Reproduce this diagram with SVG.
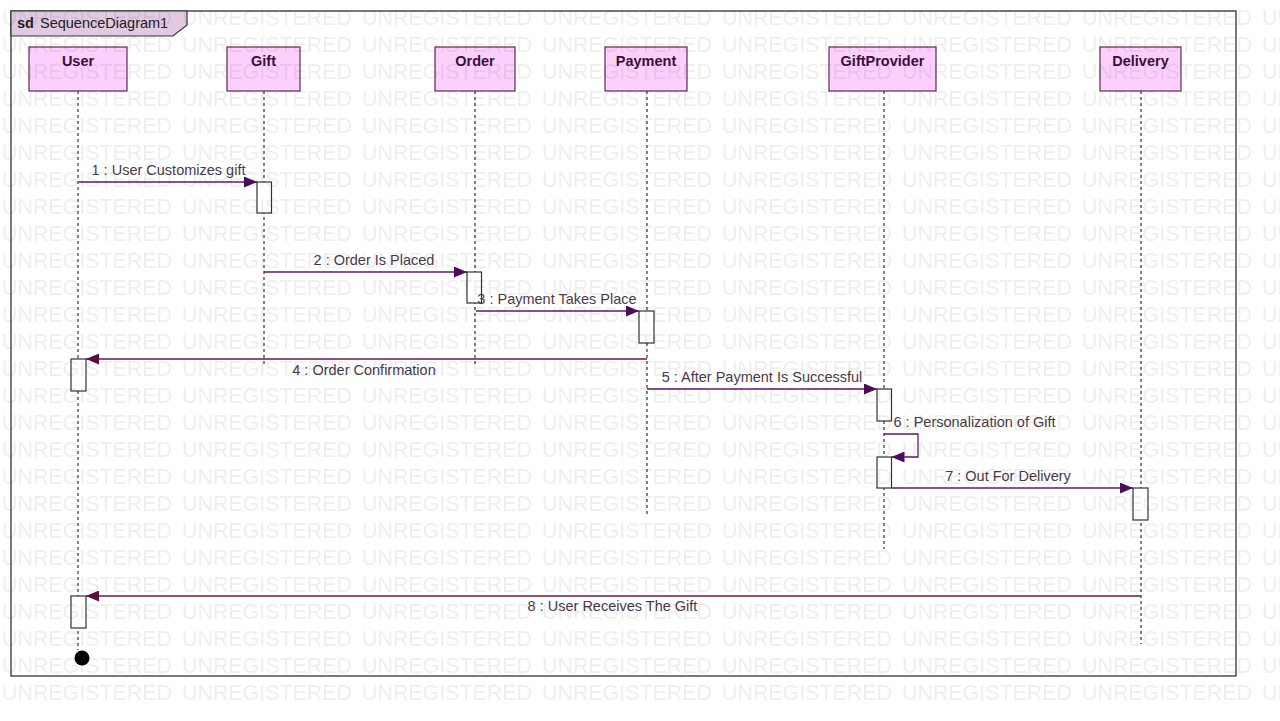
<svg xmlns="http://www.w3.org/2000/svg" width="1280" height="721" viewBox="0 0 1280 721">
<style>
text{font-family:"Liberation Sans",Arial,sans-serif;}
.head{fill:#fdcffd;stroke:#5c2a50;stroke-width:1.2;}
.htxt{font-size:14.5px;font-weight:bold;fill:#3a0f3a;text-anchor:middle;}
.life{stroke:#333;stroke-width:1.2;stroke-dasharray:3,3;fill:none;}
.act{fill:#fff;stroke:#333;stroke-width:1.2;}
.msg{stroke:#66166a;stroke-width:1.3;fill:none;}
.ret{stroke:#6d1450;stroke-width:1.3;fill:none;}
.lbl{font-size:14.5px;fill:#4a3a4a;text-anchor:middle;}
.wm{font-size:21.4px;fill:#000;fill-opacity:0.065;}
</style>
<defs>
<marker id="ah" markerUnits="userSpaceOnUse" markerWidth="13" markerHeight="11" refX="13" refY="5.5" orient="auto">
<path d="M0,0 L13,5.5 L0,11 z" fill="#4d0d5c"/>
</marker>
<marker id="ahr" markerUnits="userSpaceOnUse" markerWidth="13" markerHeight="11" refX="13" refY="5.5" orient="auto">
<path d="M0,0 L13,5.5 L0,11 z" fill="#5e0c3c"/>
</marker>
<pattern id="wmp" patternUnits="userSpaceOnUse" x="2" y="0" width="180" height="27">
<text class="wm" x="0" y="25">UNREGISTERED</text>
</pattern>
</defs>
<rect width="1280" height="721" fill="#fff"/>
<g id="frame">
<rect x="11" y="11" width="1225" height="665" fill="none" stroke="#222" stroke-width="1.2"/>
<path d="M11,11 L187,11 L187,25 L173,36 L11,36 Z" fill="#e2c9e2" stroke="#333" stroke-width="1.2"/>
<text x="17" y="28" font-size="14.5" fill="#222"><tspan font-weight="bold">sd</tspan><tspan x="40">SequenceDiagram1</tspan></text>
</g>
<g id="lifelines">
<line class="life" x1="78" y1="91" x2="78" y2="650"/>
<line class="life" x1="264" y1="91" x2="264" y2="366"/>
<line class="life" x1="475" y1="91" x2="475" y2="366"/>
<line class="life" x1="647" y1="91" x2="647" y2="516"/>
<line class="life" x1="884" y1="91" x2="884" y2="549"/>
<line class="life" x1="1141" y1="91" x2="1141" y2="644"/>
</g>
<g id="User"><rect class="head" x="29" y="47" width="98" height="44"/><text class="htxt" x="78" y="66">User</text></g>
<g id="Gift"><rect class="head" x="227" y="47" width="73" height="44"/><text class="htxt" x="263.5" y="66">Gift</text></g>
<g id="Order"><rect class="head" x="435" y="47" width="80" height="44"/><text class="htxt" x="475" y="66">Order</text></g>
<g id="Payment"><rect class="head" x="605" y="47" width="82" height="44"/><text class="htxt" x="646" y="66">Payment</text></g>
<g id="GiftProvider"><rect class="head" x="829" y="47" width="107" height="44"/><text class="htxt" x="882.5" y="66">GiftProvider</text></g>
<g id="Delivery"><rect class="head" x="1100" y="47" width="81" height="44"/><text class="htxt" x="1140.5" y="66">Delivery</text></g>
<g id="activations">
<rect class="act" x="257" y="182" width="14.5" height="31"/>
<rect class="act" x="467" y="272" width="14.5" height="31"/>
<rect class="act" x="639" y="311" width="15" height="32"/>
<rect class="act" x="71" y="359" width="15" height="32"/>
<rect class="act" x="877" y="389" width="14.5" height="32"/>
<rect class="act" x="877" y="457" width="14.5" height="31"/>
<rect class="act" x="1133" y="488" width="15" height="32"/>
<rect class="act" x="71" y="596" width="15" height="32"/>
</g>
<g id="end"><circle cx="82" cy="658" r="7.5" fill="#000"/></g>
<g id="connectors">
<line class="msg" x1="79" y1="182" x2="257" y2="182" marker-end="url(#ah)"/>
<line class="msg" x1="264" y1="272" x2="467" y2="272" marker-end="url(#ah)"/>
<line class="msg" x1="476" y1="311" x2="639" y2="311" marker-end="url(#ah)"/>
<line class="ret" x1="647" y1="359" x2="86" y2="359" marker-end="url(#ahr)"/>
<line class="msg" x1="647" y1="389" x2="877" y2="389" marker-end="url(#ah)"/>
<path class="msg" d="M884,434 L918,434 L918,457 L891.5,457" marker-end="url(#ah)"/>
<line class="msg" x1="891.5" y1="488" x2="1133" y2="488" marker-end="url(#ah)"/>
<line class="ret" x1="1141" y1="596" x2="86" y2="596" marker-end="url(#ahr)"/>
</g>
<g id="labels">
<text class="lbl" x="168.5" y="175">1 : User Customizes gift</text>
<text class="lbl" x="374" y="265">2 : Order Is Placed</text>
<text class="lbl" x="557" y="304">3 : Payment Takes Place</text>
<text class="lbl" x="364" y="375">4 : Order Confirmation</text>
<text class="lbl" x="762" y="382">5 : After Payment Is Successful</text>
<text class="lbl" x="974.5" y="427">6 : Personalization of Gift</text>
<text class="lbl" x="1008" y="481">7 : Out For Delivery</text>
<text class="lbl" x="612.5" y="611">8 : User Receives The Gift</text>
</g>
<rect id="watermark" x="0" y="0" width="1280" height="708" fill="url(#wmp)" pointer-events="none"/>
</svg>
